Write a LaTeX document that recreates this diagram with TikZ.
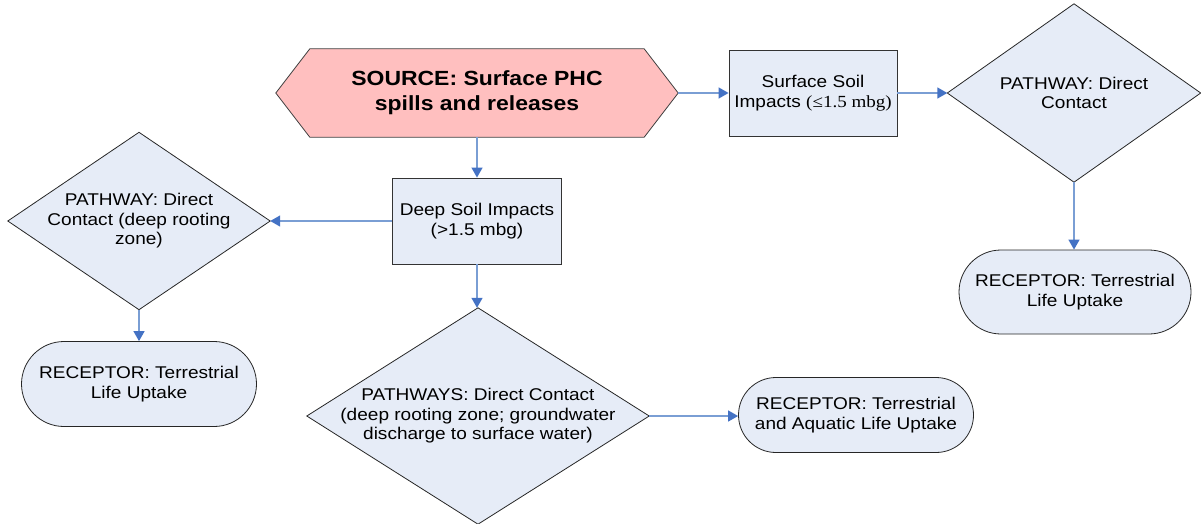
\documentclass[tikz,border=0pt]{standalone}
\usepackage{fontspec}
\setmainfont{Liberation Sans}[FakeStretch=1.12]
\newfontfamily\timespart{Liberation Serif}[FakeStretch=1.12]
\usetikzlibrary{shapes.misc,arrows.meta}

\definecolor{boxfill}{RGB}{230,236,247}
\definecolor{srcfill}{RGB}{255,191,191}
\definecolor{lineblue}{RGB}{122,158,212}
\definecolor{tipblue}{RGB}{68,114,196}

\tikzset{
  every node/.style={font=\fontsize{17}{19.5}\selectfont, align=center, inner sep=0pt},
  impactbox/.style={draw=black!80, line width=0.9pt, fill=boxfill, rectangle},
  pathframe/.style={rectangle},
  pathshape/.style={draw=black!85, line width=0.8pt, fill=boxfill},
  receptorbox/.style={draw=black!85, line width=0.8pt, fill=boxfill, rounded rectangle},
  link/.style={draw=lineblue, line width=1.4pt,
    -{Triangle[length=10pt,width=11pt,color=tipblue]}},
}

\begin{document}
\begin{tikzpicture}[x=1pt,y=-1pt]
\useasboundingbox (0,0) rectangle (1201,523);

% source (hexagon drawn around a plain anchor node)
\node[minimum width=402pt, minimum height=88pt] (src) at (477,93) {};
\path[fill=srcfill, draw=black!75, line width=0.8pt]
  (src.west) -- ([xshift=34pt]src.north west) -- ([xshift=-34pt]src.north east)
  -- (src.east) -- ([xshift=-34pt]src.south east) -- ([xshift=34pt]src.south west) -- cycle;
\node[font=\fontsize{20.5}{25}\selectfont\bfseries] at (src.center)
  {SOURCE: Surface PHC\\spills and releases};

% soil impact boxes
\node[impactbox, minimum width=168pt, minimum height=86pt] (surf) at (813,93)
  {Surface Soil\\Impacts {\timespart(≤1.5 mbg)}};
\node[impactbox, minimum width=169pt, minimum height=86pt] (deep) at (477,221)
  {Deep Soil Impacts\\(>1.5 mbg)};

% pathways: frames give the diamond corners, then shape and text
\node[pathframe, minimum width=253pt, minimum height=178pt] (dR) at (1074,93) {};
\node[pathframe, minimum width=262pt, minimum height=177pt] (dL) at (139,221) {};
\node[pathframe, minimum width=342pt, minimum height=216pt] (dB) at (478,416) {};
\foreach \d in {dR,dL,dB}
  \path[pathshape] (\d.north) -- (\d.east) -- (\d.south) -- (\d.west) -- cycle;
\node (dRtext) at (dR.center) {PATHWAY: Direct\\Contact};
\node (dLtext) at (dL.center) {PATHWAY: Direct\\Contact (deep rooting\\zone)};
\node (dBtext) at (dB.center)
  {PATHWAYS: Direct Contact\\(deep rooting zone; groundwater\\discharge to surface water)};

% receptors
\node[receptorbox, minimum width=232pt, minimum height=84pt] (recR) at (1075,292)
  {RECEPTOR: Terrestrial\\Life Uptake};
\node[receptorbox, minimum width=235pt, minimum height=85pt] (recL) at (139,384)
  {RECEPTOR: Terrestrial\\Life Uptake};
\node[receptorbox, minimum width=235pt, minimum height=75pt] (recB) at (856,415)
  {RECEPTOR: Terrestrial\\and Aquatic Life Uptake};

% connectors
\draw[link] (src.east) -- (surf.west);
\draw[link] (surf.east) -- (dR.west);
\draw[link] (dR.south) -- (dR.south |- recR.north);
\draw[link] (src.south) -- (deep.north);
\draw[link] (deep.west) -- (dL.east);
\draw[link] (dL.south) -- (recL.north);
\draw[link] (deep.south) -- (deep.south |- dB.north);
\draw[link] (dB.east) -- (dB.east -| recB.west);
\end{tikzpicture}
\end{document}
